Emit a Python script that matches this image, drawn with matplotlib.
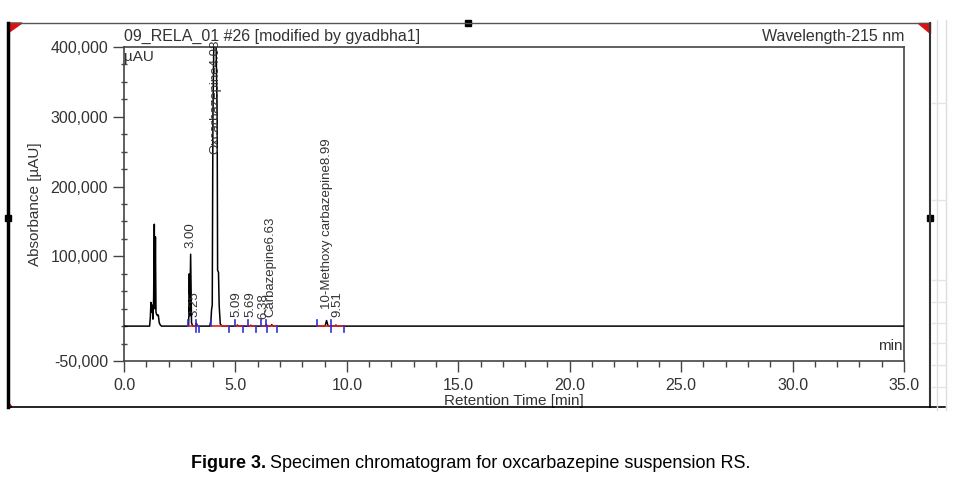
import matplotlib
matplotlib.use("Agg")
from matplotlib import pyplot as plt
from matplotlib.lines import Line2D
from matplotlib.patches import Polygon, Rectangle
from matplotlib.ticker import MultipleLocator, FixedLocator, FuncFormatter

plt.rcParams['font.family'] = ['Liberation Sans', 'DejaVu Sans']

# chromatogram trace (retention time in min, signal in uAU)
trace_t = [0.0, 1.15, 1.18, 1.21, 1.24, 1.27, 1.30, 1.33, 1.36, 1.385, 1.41, 1.435,
           1.46, 1.50, 1.54, 1.58, 1.62, 1.68,
           2.90, 2.93, 2.95, 2.99, 3.03, 3.08,
           3.20, 3.25, 3.30,
           3.85, 3.90, 3.93, 3.96, 3.99, 4.04, 4.12, 4.18, 4.20, 4.24, 4.27, 4.32, 4.40,
           5.04, 5.09, 5.14, 5.64, 5.69, 5.74, 6.33, 6.38, 6.43, 6.58, 6.63, 6.68,
           9.02, 9.09, 9.16, 9.46, 9.51, 9.56, 35.0]
trace_y = [0, 0, 12000, 34000, 20000, 30000, 10000, 40000, 146000, 25000, 128000, 20000,
           17000, 15000, 16000, 5000, 2000, 0,
           0, 75000, 15000, 103000, 5000, 0,
           0, 4000, 0,
           0, 8000, 24000, 30000, 300000, 430000, 430000, 300000, 80000, 77000, 30000, 3000, 0,
           0, 1500, 0, 0, 1200, 0, 0, 2500, 0, 0, 2000, 0,
           0, 8000, 0, 0, 1500, 0, 0]

# peak annotations: text, x position, bottom of label
peak_labels = ['3.00', '3.25', 'Oxcarbazepine4.08', '5.09', '5.69', '6.38',
               'Carbazepine6.63', '10-Methoxy carbazepine8.99', '9.51']
label_x = [2.99, 3.16, 4.08, 5.06, 5.65, 6.25, 6.58, 9.09, 9.59]
label_bottom = [112000, 12500, 246000, 12500, 12500, 9600, 12500, 24000, 12500]

# integration marks
peak_starts = [2.89, 3.22, 3.89, 4.97, 5.57, 6.16, 6.38, 8.67, 9.28]
peak_ends = [3.25, 3.35, 4.70, 5.35, 5.92, 6.43, 6.88, 9.30, 9.86]

y_major = [-50000, 100000, 200000, 300000, 400000]

W, H = 975, 499


def fx(x):
    return x / W


def fy(y):
    return 1 - y / H


fig = plt.figure(figsize=(9.75, 4.99), dpi=100)
ax = fig.add_axes([fx(124), fy(361), fx(904) - fx(124), fy(47) - fy(361)])

txt = '#333333'

ax.plot(trace_t, trace_y, color='black', lw=1.1, zorder=3)

for s, e in zip(peak_starts, peak_ends):
    ax.plot([s, e], [0, 0], color='#e02020', lw=1.2, zorder=4)
    ax.plot([s, s], [0, 9000], color='#3030d0', lw=1.2, zorder=5)
    ax.plot([e, e], [0, -9000], color='#3030d0', lw=1.2, zorder=5)

for lab, x, b in zip(peak_labels, label_x, label_bottom):
    ax.text(x, b, lab, rotation=90, ha='center', va='bottom', fontsize=9.5,
            color=txt, zorder=6)

ax.set_xlim(0, 35)
ax.set_ylim(-50000, 400000)
ax.xaxis.set_major_locator(MultipleLocator(5))
ax.xaxis.set_minor_locator(MultipleLocator(1))
ax.yaxis.set_major_locator(FixedLocator(y_major))
ax.yaxis.set_minor_locator(MultipleLocator(25000))
ax.xaxis.set_major_formatter(FuncFormatter(lambda v, p: '%.1f' % v))
ax.yaxis.set_major_formatter(FuncFormatter(lambda v, p: '{:,.0f}'.format(v)))
ax.tick_params(axis='both', which='major', length=8, width=1, color='#444444',
               labelsize=11.5, labelcolor=txt)
ax.tick_params(axis='x', which='minor', length=4, width=1, color='#444444')
ax.tick_params(axis='y', which='minor', length=4, width=1, color='#444444', direction='inout')
ax.tick_params(axis='x', which='major', pad=4)
for sp in ax.spines.values():
    sp.set_color('#444444')
    sp.set_linewidth(1.2)

ax.set_xlabel('Retention Time [min]', fontsize=11, color=txt, labelpad=1)
ax.set_ylabel('Absorbance [µAU]', fontsize=11, color=txt, labelpad=6)
ax.text(0.0, 1.01, '09_RELA_01 #26 [modified by gyadbha1]', transform=ax.transAxes,
        fontsize=11.5, color=txt, ha='left', va='bottom')
ax.text(1.0, 1.01, 'Wavelength-215 nm', transform=ax.transAxes,
        fontsize=11.5, color=txt, ha='right', va='bottom')
ax.text(0.0, 0.99, 'µAU', transform=ax.transAxes, fontsize=11, color=txt,
        ha='left', va='top')
ax.text(0.998, 0.025, 'min', transform=ax.transAxes, fontsize=11, color=txt,
        ha='right', va='bottom')

# outer frame of the screenshot
def fline(xs, ys, **kw):
    fig.add_artist(Line2D([fx(v) for v in xs], [fy(v) for v in ys], **kw))

fline([8, 930], [23, 23], color='#555555', lw=1)
fline([8, 8], [23, 407], color='black', lw=2.5)
fline([930, 930], [23, 407], color='#333333', lw=1.5)
fline([8, 945], [407, 407], color='black', lw=1.2)
for xv in [937, 946]:
    fline([xv, xv], [20, 410], color='#dddddd', lw=1)
for yv in [103, 200, 280, 302, 323, 343, 365, 387]:
    fline([932, 946], [yv, yv], color='#e4e4e4', lw=1)

fig.add_artist(Polygon([[fx(8), fy(23)], [fx(22), fy(23)], [fx(8), fy(33)]], color='#e01010'))
fig.add_artist(Polygon([[fx(918), fy(23)], [fx(930), fy(23)], [fx(930), fy(33)]], color='#e01010'))
fig.add_artist(Polygon([[fx(8), fy(407)], [fx(12), fy(407)], [fx(8), fy(402)]], color='#e01010'))
for cx, cy in [(468, 23), (8, 218), (930, 218)]:
    fig.add_artist(Rectangle((fx(cx - 3), fy(cy + 3)), fx(6), 6 / H, color='black'))

fig.text(fx(266), fy(463), 'Figure 3.', ha='right', va='center', fontsize=13,
         fontweight='bold', color='black')
fig.text(fx(270), fy(463), 'Specimen chromatogram for oxcarbazepine suspension RS.',
         ha='left', va='center', fontsize=13, color='black')

fig.savefig('out.png', dpi=100)
